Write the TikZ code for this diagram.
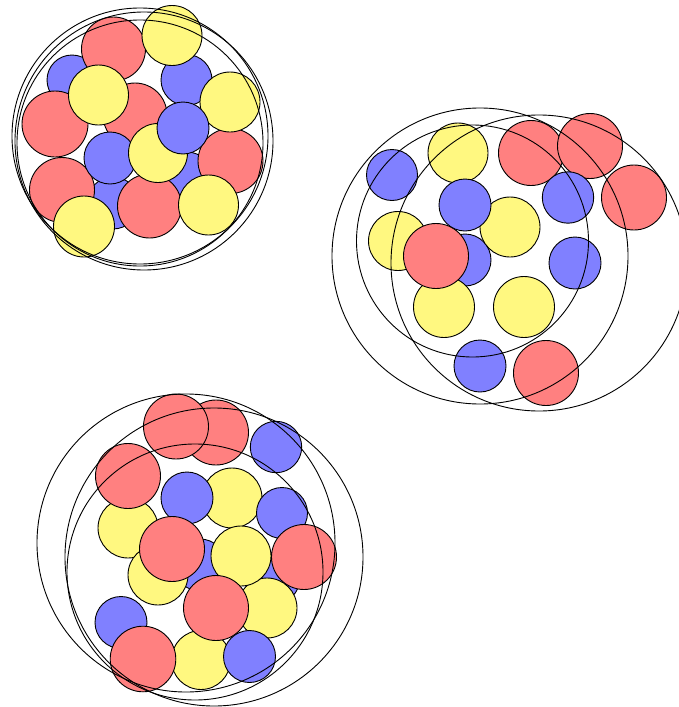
\documentclass[tikz,border=0pt]{standalone}
\begin{document}
\begin{tikzpicture}[x=1pt,y=-1pt,
  ball/.style={draw=black,line width=0.9pt},
  rb/.style={ball,fill=red!50},
  bb/.style={ball,fill=blue!50},
  yb/.style={ball,fill=yellow!50},
  ring/.style={draw=black,line width=0.9pt}]
\useasboundingbox (0,0) rectangle (679,707);
% ---------- cluster 1 (top left) ----------
\path[bb] (72,80) circle (25pt);
\path[bb] (186.5,80) circle (25.5pt);
\path[rb] (113.5,49) circle (32pt);
\path[yb] (172,35.5) circle (30pt);
\path[rb] (135,115) circle (32pt);
\path[rb] (55,124) circle (33pt);
\path[yb] (98.5,95) circle (30pt);
\path[bb] (187,177) circle (25pt);
\path[bb] (113,203) circle (26pt);
\path[rb] (62,190) circle (32.5pt);
\path[rb] (149.5,206) circle (32pt);
\path[rb] (230.5,161) circle (32.5pt);
\path[yb] (230,102) circle (30pt);
\path[bb] (110,158) circle (26pt);
\path[yb] (158,153) circle (29.5pt);
\path[bb] (183,128) circle (26pt);
\path[yb] (208.5,205) circle (30pt);
\path[yb] (84,226.5) circle (30.5pt);
\path[ring] (140,136) circle (128pt);
\path[ring] (144,141) circle (129pt);
\path[ring] (140,143) circle (123pt);
% ---------- cluster 2 (right) ----------
\path[yb] (398,241) circle (29.5pt);
\path[bb] (465,260) circle (26pt);
\path[yb] (444,307) circle (30.5pt);
\path[rb] (436,256) circle (32.5pt);
\path[yb] (458,153) circle (30pt);
\path[bb] (392,175) circle (25.5pt);
\path[rb] (531,153) circle (32.5pt);
\path[rb] (590,146) circle (32.5pt);
\path[rb] (634,197.5) circle (32.5pt);
\path[bb] (568,197.5) circle (25.7pt);
\path[yb] (510,227) circle (30pt);
\path[bb] (465,205) circle (26pt);
\path[bb] (575,263) circle (26pt);
\path[yb] (524,307) circle (30.5pt);
\path[bb] (480,366) circle (26pt);
\path[rb] (546,373) circle (32.5pt);
\path[ring] (480,256) circle (148pt);
\path[ring] (472.5,241) circle (116pt);
\path[ring] (539,263) circle (148pt);
% ---------- cluster 3 (bottom) ----------
\path[yb] (128,528) circle (30pt);
\path[bb] (200,565) circle (26pt);
\path[bb] (274,578) circle (26pt);
\path[yb] (158,575) circle (30pt);
\path[yb] (267,608) circle (30pt);
\path[bb] (121,622.5) circle (26pt);
\path[yb] (201,660) circle (29.5pt);
\path[rb] (216,432.5) circle (32.5pt);
\path[rb] (176,426.5) circle (32.5pt);
\path[bb] (276,447) circle (25.7pt);
\path[rb] (128,476) circle (32.5pt);
\path[yb] (232,498) circle (30pt);
\path[bb] (187,498) circle (26pt);
\path[bb] (282,513) circle (25.5pt);
\path[yb] (241,556) circle (30pt);
\path[rb] (172,549) circle (32.5pt);
\path[rb] (304,557) circle (32.5pt);
\path[rb] (216,608) circle (32.5pt);
\path[rb] (143,659) circle (32.8pt);
\path[bb] (249.5,656.5) circle (26pt);
\path[ring] (186,543) circle (149pt);
\path[ring] (214,557) circle (149pt);
\path[ring] (195,572) circle (128pt);
\end{tikzpicture}
\end{document}
